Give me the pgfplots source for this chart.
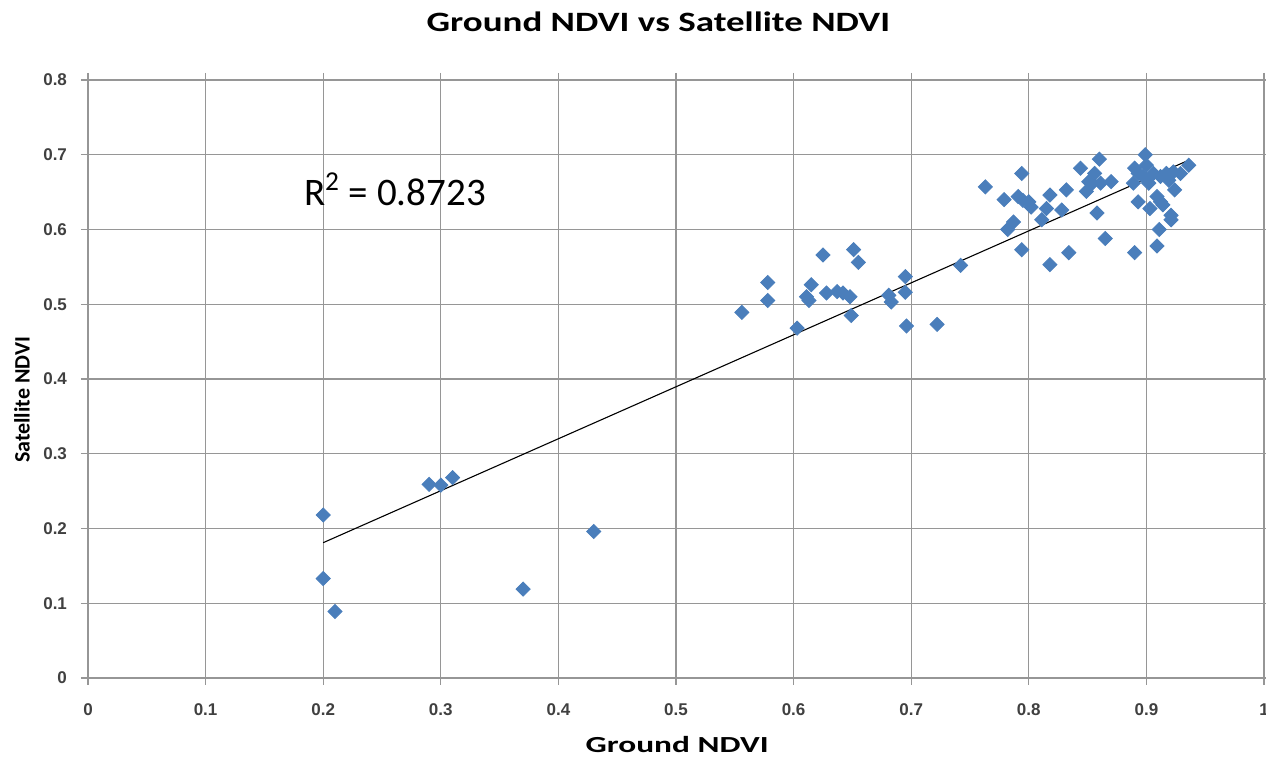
\documentclass[border=0pt]{standalone}
\usepackage{fontspec}
\setmainfont{Carlito}
\newfontfamily\widefont{Carlito}[FakeStretch=1.32]
\newfontfamily\xlabfont{Carlito}[FakeStretch=1.45]
\newfontfamily\tickfont{Liberation Sans}
\usepackage{pgfplots}
\pgfplotsset{compat=1.18}
\definecolor{ptblue}{RGB}{74,126,187}
\definecolor{gridgray}{RGB}{150,150,150}
\begin{document}
\begin{tikzpicture}
\path[use as bounding box] (-44pt,-42.5pt) rectangle (589pt,339pt);
\begin{axis}[
  name=ax,
  at={(0,0)}, anchor=south west,
  scale only axis,
  clip=false,
  width=588pt, height=299pt,
  xmin=0, xmax=1, ymin=0, ymax=0.8,
  xtick={0,0.1,...,1.0}, ytick={0,0.1,...,0.8},
  xticklabels={0,0.1,0.2,0.3,0.4,0.5,0.6,0.7,0.8,0.9,1},
  yticklabels={0,0.1,0.2,0.3,0.4,0.5,0.6,0.7,0.8},
  grid=major,
  grid style={gridgray, line width=0.55pt},
  axis line style={gridgray, line width=0.55pt},
  tick style={gridgray, line width=0.55pt},
  tick align=outside,
  major tick length=3.5pt,
  tick label style={font=\tickfont\bfseries\fontsize{8.5}{10}\selectfont, text=black!75},
  xticklabel style={yshift=-6pt},
  yticklabel style={xshift=-3.5pt},
  xlabel={\xlabfont\bfseries Ground NDVI},
  xlabel style={font=\fontsize{11.5}{13}\selectfont, at={(axis description cs:0.501,-0.112)}, anchor=center},
  ylabel={\bfseries Satellite NDVI},
  ylabel style={font=\fontsize{11}{13}\selectfont, at={(axis description cs:-0.0561,0.465)}, anchor=center},
]
\addplot[only marks, mark=square*, mark size=2.5pt, mark options={fill=ptblue, draw=ptblue, rotate=45}] coordinates {
(0.200,0.218) (0.200,0.133) (0.210,0.089) (0.290,0.259) (0.300,0.258) (0.310,0.268)
(0.370,0.119) (0.430,0.196)
(0.556,0.489) (0.578,0.529) (0.578,0.505) (0.603,0.468) (0.615,0.526) (0.611,0.510)
(0.613,0.505) (0.628,0.515) (0.637,0.517) (0.642,0.515) (0.648,0.510) (0.649,0.485)
(0.625,0.566) (0.651,0.573) (0.655,0.556) (0.681,0.512) (0.683,0.503) (0.695,0.537)
(0.695,0.516) (0.696,0.471) (0.722,0.473) (0.742,0.552)
(0.763,0.657) (0.779,0.640) (0.782,0.600) (0.794,0.675) (0.791,0.644) (0.795,0.639)
(0.800,0.637) (0.802,0.630) (0.787,0.610) (0.794,0.573) (0.811,0.613) (0.815,0.628)
(0.818,0.646) (0.828,0.626) (0.832,0.653) (0.818,0.553) (0.834,0.569) (0.844,0.682)
(0.860,0.694) (0.856,0.675) (0.851,0.664) (0.849,0.651) (0.854,0.662) (0.861,0.662)
(0.870,0.664) (0.858,0.622) (0.865,0.588) (0.890,0.682) (0.893,0.675) (0.889,0.662)
(0.899,0.700) (0.900,0.686) (0.897,0.671) (0.902,0.662) (0.906,0.675) (0.893,0.637)
(0.890,0.569) (0.903,0.628) (0.909,0.644) (0.912,0.637) (0.914,0.633) (0.911,0.600)
(0.909,0.578) (0.921,0.619) (0.921,0.613) (0.924,0.653) (0.912,0.671) (0.917,0.675)
(0.923,0.677) (0.929,0.675) (0.936,0.686) (0.919,0.666)
};
\addplot[black, line width=0.55pt] coordinates {(0.2,0.181) (0.935,0.692)};
\node[font=\fontsize{19.5}{22}\selectfont, anchor=center] at (axis cs:0.261,0.654) {R\textsuperscript{2} = 0.8723};
\node[font=\widefont\bfseries\fontsize{14}{16}\selectfont, anchor=center] at (axis description cs:0.485,1.097) {Ground NDVI vs Satellite NDVI};
\end{axis}
\end{tikzpicture}
\end{document}
